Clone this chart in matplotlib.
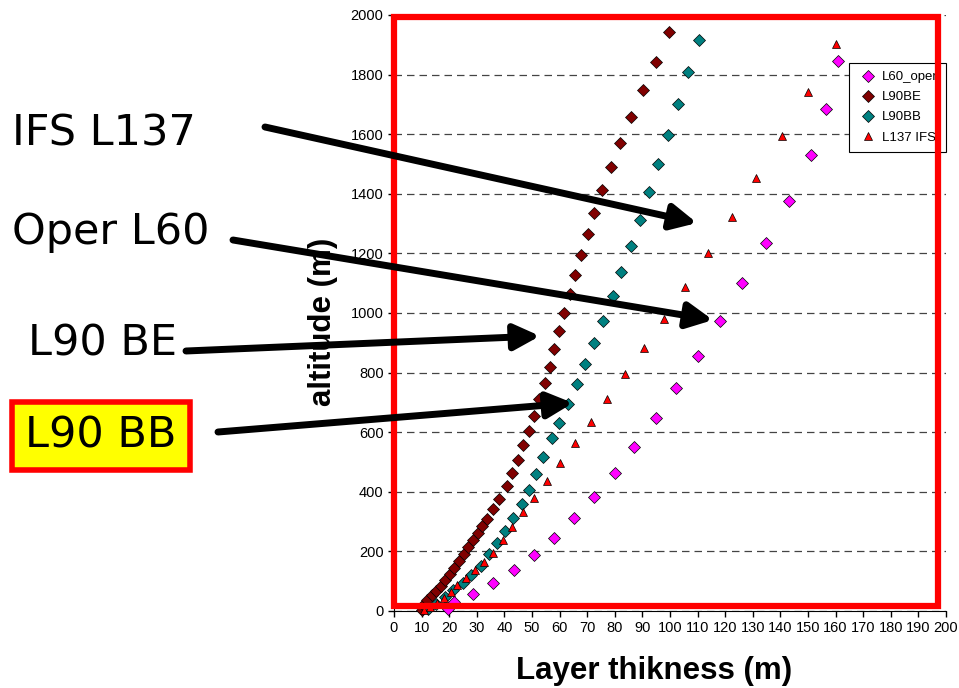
import matplotlib
matplotlib.use("Agg")
import matplotlib.pyplot as plt
from matplotlib.patches import Rectangle

# layer thickness (m) / altitude (m)
l60_thick = [19.6, 21.7, 28.6, 35.9, 43.5, 50.7, 58.0, 65.2, 72.5, 80.1, 87.0,
             94.9, 102.2, 110.1, 118.1, 126.1, 134.8, 143.1, 151.1, 156.5, 160.9]
l60_alt = [7, 30, 58, 95, 138, 188, 245, 312, 383, 463, 552,
           646, 748, 857, 973, 1101, 1235, 1376, 1530, 1686, 1845]

l90be_thick = [10.1, 10.5, 12.0, 13.8, 15.2, 17.0, 18.5, 20.3, 21.7, 23.6, 25.4,
               26.8, 28.6, 30.4, 32.0, 33.7, 35.9, 38.0, 40.9, 42.8, 44.9, 46.7,
               48.9, 50.7, 52.5, 54.7, 56.5, 58.0, 59.8, 61.6, 63.8, 65.6, 67.8,
               70.3, 72.5, 75.4, 78.6, 81.9, 85.9, 90.2, 94.9, 99.6]
l90be_alt = [2, 20, 37, 54, 67, 84, 104, 124, 144, 168, 191,
             215, 238, 262, 285, 309, 342, 376, 420, 463, 507, 557,
             604, 654, 711, 765, 819, 880, 940, 1000, 1064, 1128, 1195,
             1265, 1336, 1413, 1490, 1570, 1658, 1748, 1842, 1943]

l90bb_thick = [12.3, 15.2, 18.5, 21.5, 25.0, 28.0, 31.5, 34.4, 37.3, 40.2, 43.1,
               46.4, 48.9, 51.5, 54.0, 57.2, 59.8, 63.0, 66.3, 69.2, 72.5, 75.7,
               79.3, 82.2, 85.9, 89.1, 92.4, 95.7, 99.3, 102.9, 106.5, 110.5]
l90bb_alt = [8, 25, 47, 70, 94, 120, 152, 190, 228, 268, 312,
             359, 406, 459, 516, 580, 631, 695, 762, 829, 899, 973,
             1057, 1138, 1225, 1312, 1406, 1500, 1597, 1701, 1809, 1916]

l137_thick = [11.0, 13.0, 15.5, 18.0, 20.5, 23.0, 26.0, 29.5, 32.5, 35.9, 39.5,
              42.8, 46.7, 50.7, 55.4, 60.1, 65.5, 71.4, 77.2, 83.7, 90.6, 97.8,
              105.4, 113.8, 122.5, 131.2, 140.6, 150.0, 160.1]
l137_alt = [3, 14, 28, 45, 65, 87, 111, 138, 166, 195, 238,
            282, 332, 379, 436, 497, 564, 634, 711, 795, 883, 980,
            1087, 1201, 1322, 1453, 1594, 1742, 1903]

W, H = 959, 688
fig = plt.figure(figsize=(W / 100, H / 100), dpi=100)
ax = fig.add_axes([394 / W, 1 - 611 / H, 552 / W, 596 / H])

mk = dict(linestyle="none", markeredgecolor="black", markeredgewidth=0.5, clip_on=False, zorder=3)
ax.plot(l60_thick, l60_alt, "D", color="#ff00ff", markersize=6.3, label="L60_oper", **mk)
ax.plot(l90be_thick, l90be_alt, "D", color="#800000", markersize=6.3, label="L90BE", **mk)
ax.plot(l90bb_thick, l90bb_alt, "D", color="#008080", markersize=6.3, label="L90BB", **mk)
ax.plot(l137_thick, l137_alt, "^", color="#ff0000", markersize=5.8, label="L137 IFS", **mk)

ax.set_xlim(0, 200)
ax.set_ylim(0, 2000)
ax.set_xticks(range(0, 201, 10))
ax.set_yticks(range(0, 2001, 200))
ax.tick_params(direction="out", length=4, width=1, labelsize=10.5, colors="black")
for s in ["top", "right"]:
    ax.spines[s].set_visible(False)
ax.grid(axis="y", linestyle=(0, (6, 4)), color="#444444", linewidth=0.9)
ax.set_axisbelow(True)

ax.set_xlabel("Layer thikness (m)", fontsize=22.5, fontweight="bold", family="Liberation Sans")
ax.xaxis.set_label_coords(0.471, -0.075)
ax.set_ylabel("altitude (m)", fontsize=22.5, fontweight="bold", family="Liberation Sans")
ax.yaxis.set_label_coords(-0.102, 0.485)
for lab in ax.get_xticklabels() + ax.get_yticklabels():
    lab.set_family("Liberation Sans")

leg = ax.legend(loc="upper right", bbox_to_anchor=(1.0, 1 - 48 / 596), borderaxespad=0,
                fancybox=False, edgecolor="black", framealpha=1,
                handletextpad=0.3, handlelength=1.6, labelspacing=0.6, borderpad=0.6,
                prop={"family": "Liberation Sans", "size": 9.5})
leg.get_frame().set_linewidth(0.8)

# overlay for the slide annotations (pixel coordinates)
ov = fig.add_axes([0, 0, 1, 1])
ov.set_xlim(0, W)
ov.set_ylim(H, 0)
ov.axis("off")
ov.patch.set_alpha(0)

ov.add_patch(Rectangle((394, 17), 544, 589, fill=False, edgecolor="#ff0000", linewidth=4.5))

txt = dict(fontsize=31, family="DejaVu Sans", va="center", ha="left")
ov.text(12, 134, "IFS L137", **txt)
ov.text(12, 232, "Oper L60", **txt)
ov.text(28, 343, "L90 BE", **txt)
ov.text(101, 436, "L90 BB", fontsize=31, family="DejaVu Sans", va="center", ha="center",
        bbox=dict(boxstyle="square,pad=0.3", facecolor="#ffff00", edgecolor="#ff0000", linewidth=4))

arrows = [((265, 127), (697, 223)),
          ((233, 240), (713, 320)),
          ((186, 351), (540, 336)),
          ((218, 432), (573, 403))]
for start, end in arrows:
    ov.annotate("", xy=end, xytext=start,
                arrowprops=dict(arrowstyle="-|>,head_length=0.9,head_width=0.45", lw=5,
                                color="black", shrinkA=0, shrinkB=0, mutation_scale=17))

fig.savefig("out.png", dpi=100)
